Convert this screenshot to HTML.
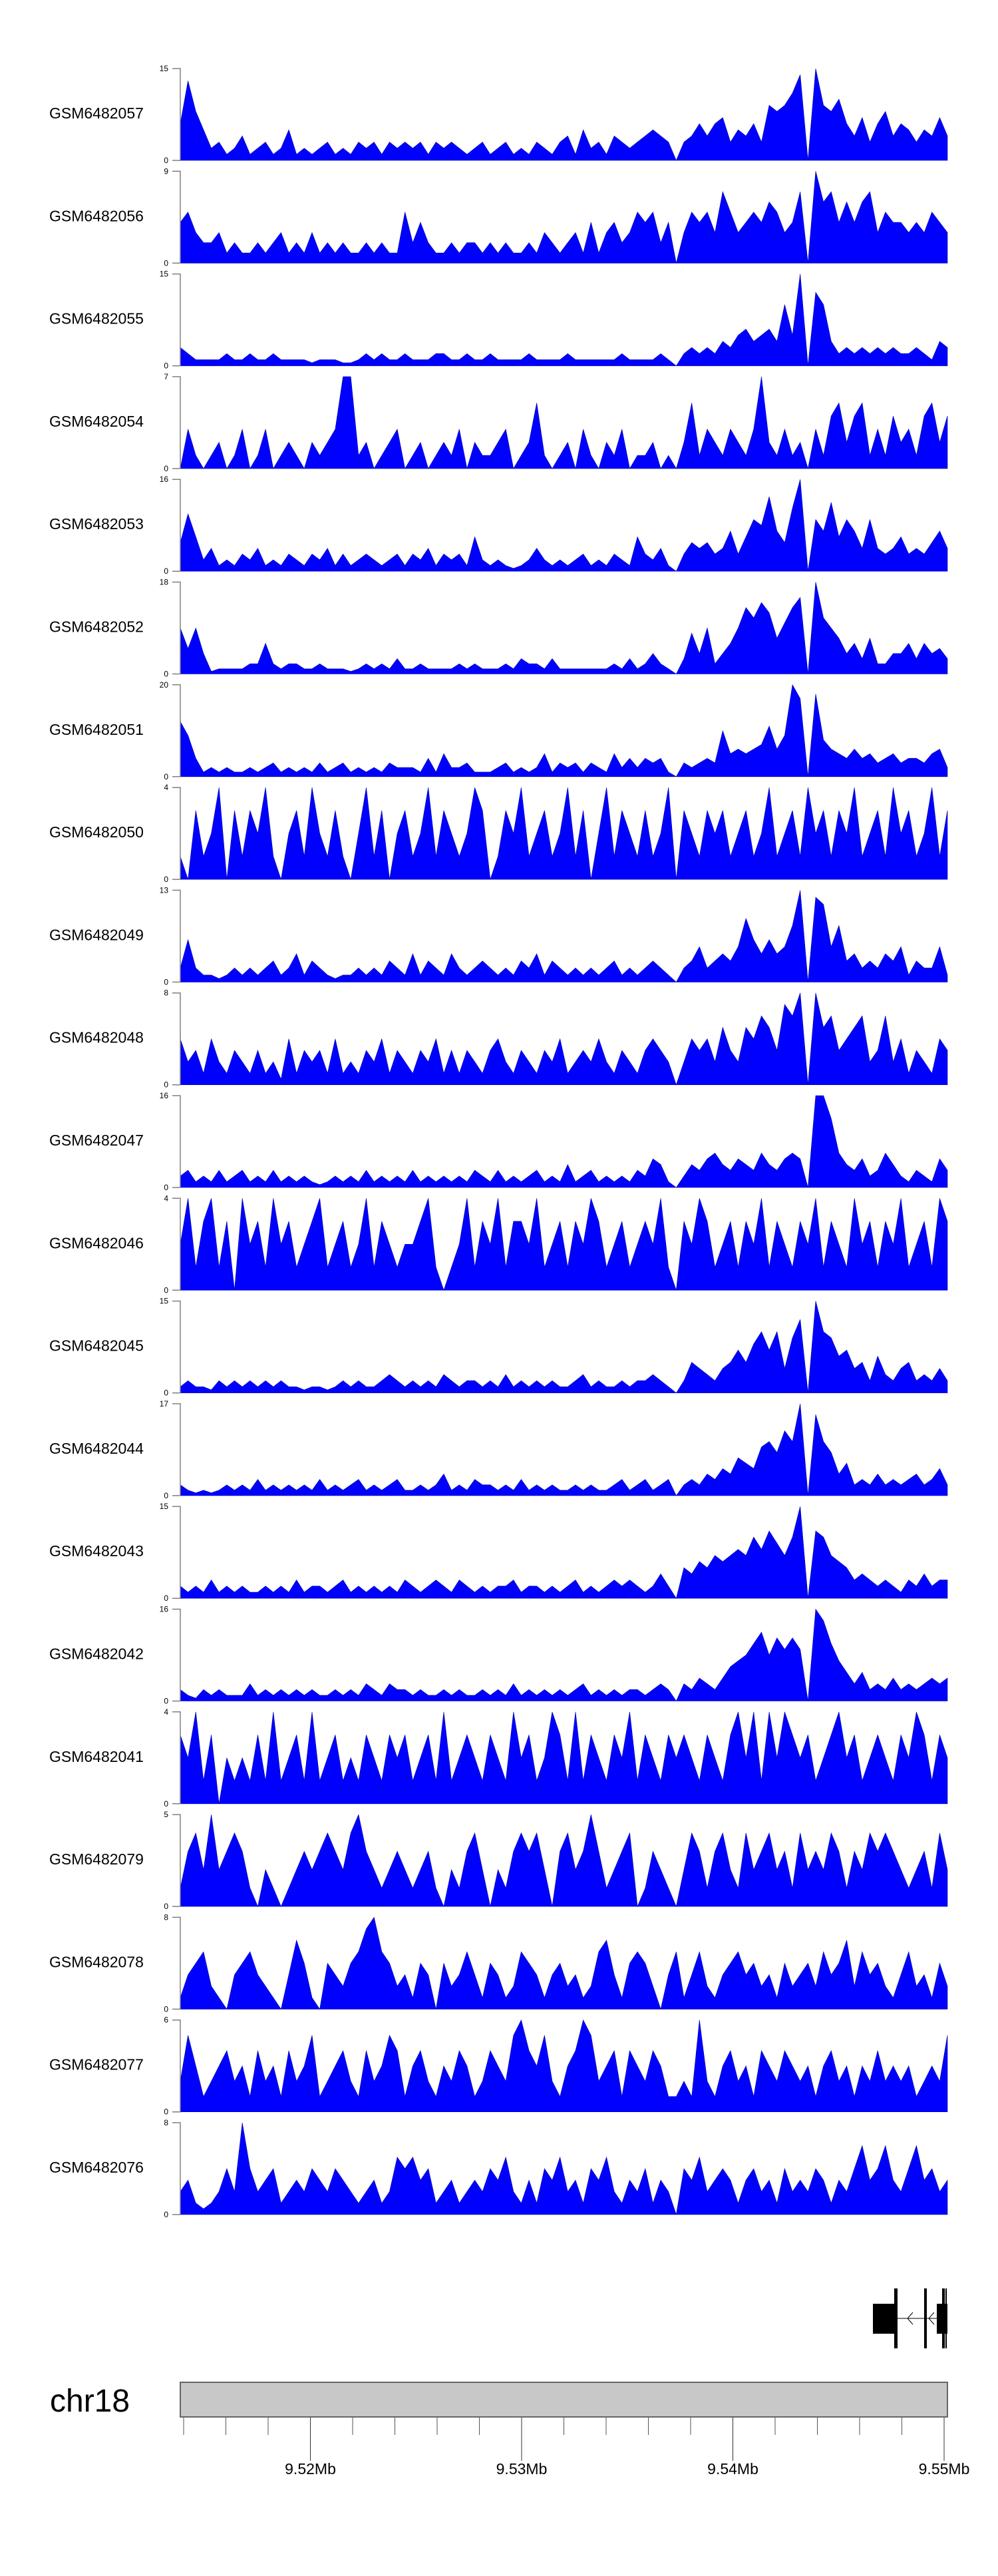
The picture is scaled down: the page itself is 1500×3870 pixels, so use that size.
<!DOCTYPE html>
<html><head><meta charset="utf-8">
<style>
html,body{margin:0;padding:0;background:#fff;}
svg{display:block;}
text{font-family:"Liberation Sans",Arial,sans-serif;}
</style></head>
<body>
<svg id="chart" width="1500" height="3870" viewBox="0 0 1500 3870" xmlns="http://www.w3.org/2000/svg">
<g id="tracks"></g>
<g id="gene">
  <line x1="1349" y1="3483" x2="1410" y2="3483" stroke="#000" stroke-width="1"/>
  <polyline points="1372,3474 1364,3483 1372,3492" fill="none" stroke="#000" stroke-width="1"/>
  <polyline points="1404,3474 1396,3483 1404,3492" fill="none" stroke="#000" stroke-width="1"/>
  <rect x="1312" y="3461" width="37" height="45" fill="#000"/>
  <rect x="1344" y="3438" width="5" height="90" fill="#000"/>
  <rect x="1389" y="3438" width="4" height="90" fill="#000"/>
  <rect x="1408" y="3461" width="16" height="45" fill="#000"/>
  <rect x="1416" y="3438" width="4" height="90" fill="#000"/>
  <rect x="1421" y="3438" width="2" height="90" fill="#000"/>
</g>
<g id="ideo">
  <text x="75" y="3623" font-size="48" fill="#000">chr18</text>
  <rect x="271" y="3579" width="1153" height="52" fill="#c8c8c8" stroke="#666" stroke-width="2"/>
</g>
</svg>
<script>
const trackNames = ["GSM6482057","GSM6482056","GSM6482055","GSM6482054","GSM6482053","GSM6482052","GSM6482051","GSM6482050","GSM6482049","GSM6482048","GSM6482047","GSM6482046","GSM6482045","GSM6482044","GSM6482043","GSM6482042","GSM6482041","GSM6482079","GSM6482078","GSM6482077","GSM6482076"];
const trackMax = [15,9,15,7,16,18,20,4,13,8,16,4,15,17,15,16,4,5,8,6,8];
const t1 = [6,13,8,5,2,3,1,2,4,1, 2,3,1,2,5,1,2,1,2,3, 1,2,1,3,2,3,1,3,2,3, 2,3,1,3,2,3,2,1,2,3, 1,2,3,1,2,1,3,2,1,3, 4,1,5,2,3,1,4,3,2,3, 4,5,4,3,0,3,4,6,4,6, 7,3,5,4,6,3,9,8,9,11, 14,0,15,9,8,10,6,4,7,3, 6,8,4,6,5,3,5,4,7,4];
const t2 = [4,5,3,2,2,3,1,2,1,1, 2,1,2,3,1,2,1,3,1,2, 1,2,1,1,2,1,2,1,1,5, 2,4,2,1,1,2,1,2,2,1, 2,1,2,1,1,2,1,3,2,1, 2,3,1,4,1,3,4,2,3,5, 4,5,2,4,0,3,5,4,5,3, 7,5,3,4,5,4,6,5,3,4, 7,0,9,6,7,4,6,4,6,7, 3,5,4,4,3,4,3,5,4,3];
const t3 = [3,2,1,1,1,1,2,1,1,2, 1,1,2,1,1,1,1,0.5,1,1, 1,0.5,0.5,1,2,1,2,1,1,2, 1,1,1,2,2,1,1,2,1,1, 2,1,1,1,1,2,1,1,1,1, 2,1,1,1,1,1,1,2,1,1, 1,1,2,1,0,2,3,2,3,2, 4,3,5,6,4,5,6,4,10,5, 15,0,12,10,4,2,3,2,3,2, 3,2,3,2,2,3,2,1,4,3];
const t4 = [0,3,1,0,1,2,0,1,3,0, 1,3,0,1,2,1,0,2,1,2, 3,7,7,1,2,0,1,2,3,0, 1,2,0,1,2,1,3,0,2,1, 1,2,3,0,1,2,5,1,0,1, 2,0,3,1,0,2,1,3,0,1, 1,2,0,1,0,2,5,1,3,2, 1,3,2,1,3,7,2,1,3,1, 2,0,3,1,4,5,2,4,5,1, 3,1,4,2,3,1,4,5,2,4];
const t5 = [5,10,6,2,4,1,2,1,3,2, 4,1,2,1,3,2,1,3,2,4, 1,3,1,2,3,2,1,2,3,1, 3,2,4,1,3,2,3,1,6,2, 1,2,1,0.5,1,2,4,2,1,2, 1,2,3,1,2,1,3,2,1,6, 3,2,4,1,0,3,5,4,5,3, 4,7,3,6,9,8,13,7,5,11, 16,0,9,7,12,6,9,7,4,9, 4,3,4,6,3,4,3,5,7,4];
const t6 = [9,5,9,4,0.5,1,1,1,1,2, 2,6,2,1,2,2,1,1,2,1, 1,1,0.5,1,2,1,2,1,3,1, 1,2,1,1,1,1,2,1,2,1, 1,1,2,1,3,2,2,1,3,1, 1,1,1,1,1,1,2,1,3,1, 2,4,2,1,0,3,8,4,9,2, 4,6,9,13,11,14,12,7,10,13, 15,0,18,11,9,7,4,6,3,7, 2,2,4,4,6,3,6,4,5,3];
const t7 = [12,9,4,1,2,1,2,1,1,2, 1,2,3,1,2,1,2,1,3,1, 2,3,1,2,1,2,1,3,2,2, 2,1,4,1,5,2,2,3,1,1, 1,2,3,1,2,1,2,5,1,3, 2,3,1,3,2,1,5,2,4,2, 4,3,4,1,0,3,2,3,4,3, 10,5,6,5,6,7,11,6,9,20, 17,0,18,8,6,5,4,6,4,5, 3,4,5,3,4,4,3,5,6,2];
const t8 = [1,0,3,1,2,4,0,3,1,3, 2,4,1,0,2,3,1,4,2,1, 3,1,0,2,4,1,3,0,2,3, 1,2,4,1,3,2,1,2,4,3, 0,1,3,2,4,1,2,3,1,2, 4,1,3,0,2,4,1,3,2,1, 3,1,2,4,0,3,2,1,3,2, 3,1,2,3,1,2,4,1,2,3, 1,4,2,3,1,3,2,4,1,2, 3,1,4,2,3,1,2,4,1,3];
const t9 = [2,6,2,1,1,0.5,1,2,1,2, 1,2,3,1,2,4,1,3,2,1, 0.5,1,1,2,1,2,1,3,2,1, 4,1,3,2,1,4,2,1,2,3, 2,1,2,1,3,2,4,1,3,2, 1,2,1,2,1,2,3,1,2,1, 2,3,2,1,0,2,3,5,2,3, 4,3,5,9,6,4,6,4,5,8, 13,0,12,11,5,8,3,4,2,3, 2,4,3,5,1,3,2,2,5,1];
const t10 = [4,2,3,1,4,2,1,3,2,1, 3,1,2,0.5,4,1,3,2,3,1, 4,1,2,1,3,2,4,1,3,2, 1,3,2,4,1,3,1,3,2,1, 3,4,2,1,3,2,1,3,2,4, 1,2,3,2,4,2,1,3,2,1, 3,4,3,2,0,2,4,3,4,2, 5,3,2,5,4,6,5,3,7,6, 8,0,8,5,6,3,4,5,6,2, 3,6,2,4,1,3,2,1,4,3];
const t11 = [2,3,1,2,1,3,1,2,3,1, 2,1,3,1,2,1,2,1,0.5,1, 2,1,2,1,3,1,2,1,2,1, 3,1,2,1,2,1,2,1,3,2, 1,3,1,2,1,2,3,1,2,1, 4,1,2,3,1,2,1,2,1,3, 2,5,4,1,0,2,4,3,5,6, 4,3,5,4,3,6,4,3,5,6, 5,0,16,16,12,6,4,3,5,2, 3,6,4,2,1,3,2,1,5,3];
const t12 = [2,4,1,3,4,1,3,0,4,2, 3,1,4,2,3,1,2,3,4,1, 2,3,1,2,4,1,3,2,1,2, 2,3,4,1,0,1,2,4,1,3, 2,4,1,3,3,2,4,1,2,3, 1,3,2,4,3,1,2,3,1,2, 3,2,4,1,0,3,2,4,3,1, 2,3,1,3,2,4,1,3,2,1, 3,2,4,1,3,2,1,4,2,3, 1,3,2,4,1,2,3,1,4,3];
const t13 = [1,2,1,1,0.5,2,1,2,1,2, 1,2,1,2,1,1,0.5,1,1,0.5, 1,2,1,2,1,1,2,3,2,1, 2,1,2,1,3,2,1,2,2,1, 2,1,3,1,2,1,2,1,2,1, 1,2,3,1,2,1,1,2,1,2, 2,3,2,1,0,2,5,4,3,2, 4,5,7,5,8,10,7,10,4,9, 12,0,15,10,9,6,7,4,5,2, 6,3,2,4,5,2,3,2,4,2];
const t14 = [2,1,0.5,1,0.5,1,2,1,2,1, 3,1,2,1,2,1,2,1,3,1, 2,1,2,3,1,2,1,2,3,1, 1,2,1,2,4,1,2,1,3,2, 2,1,2,1,3,1,2,1,2,1, 1,2,1,2,1,1,2,3,1,2, 3,1,2,3,0,2,3,2,4,3, 5,4,7,6,5,9,10,8,12,10, 17,0,15,10,8,4,6,2,3,2, 4,2,3,2,3,4,2,3,5,2];
const t15 = [2,1,2,1,3,1,2,1,2,1, 1,2,1,2,1,3,1,2,2,1, 2,3,1,2,1,2,1,2,1,3, 2,1,2,3,2,1,3,2,1,2, 1,2,2,3,1,2,2,1,2,1, 2,3,1,2,1,2,3,2,3,2, 1,2,4,2,0,5,4,6,5,7, 6,7,8,7,10,8,11,9,7,10, 15,0,11,10,7,6,5,3,4,3, 2,3,2,1,3,2,4,2,3,3];
const t16 = [2,1,0.5,2,1,2,1,1,1,3, 1,2,1,2,1,2,1,2,1,1, 2,1,2,1,3,2,1,3,2,2, 1,2,1,1,2,1,2,1,1,2, 1,2,1,3,1,2,1,2,1,2, 1,2,3,1,2,1,2,1,2,2, 1,2,3,2,0,3,2,4,3,2, 4,6,7,8,10,12,8,11,9,11, 9,0,16,14,10,7,5,3,5,2, 3,2,4,2,3,2,3,4,3,4];
const t17 = [3,2,4,1,3,0,2,1,2,1, 3,1,4,1,2,3,1,4,1,2, 3,1,2,1,3,2,1,3,2,3, 1,2,3,1,4,1,2,3,2,1, 3,2,1,4,2,3,1,2,4,3, 1,4,1,3,2,1,3,2,4,1, 3,2,1,3,2,3,2,1,3,2, 1,3,4,2,4,1,4,2,4,3, 2,3,1,2,3,4,2,3,1,2, 3,2,1,3,2,4,3,1,3,2];
const t18 = [1,3,4,2,5,2,3,4,3,1, 0,2,1,0,1,2,3,2,3,4, 3,2,4,5,3,2,1,2,3,2, 1,2,3,1,0,2,1,3,4,2, 0,2,1,3,4,3,4,2,0,3, 4,2,3,5,3,1,2,3,4,0, 1,3,2,1,0,2,4,3,1,3, 4,2,1,4,2,3,4,2,3,1, 4,2,3,2,4,3,1,3,2,4, 3,4,3,2,1,2,3,1,4,2];
const t19 = [1,3,4,5,2,1,0,3,4,5, 3,2,1,0,3,6,4,1,0,4, 3,2,4,5,7,8,5,4,2,3, 1,4,3,0,4,2,3,5,3,1, 4,3,1,2,5,4,3,1,3,4, 2,3,1,2,5,6,3,1,4,5, 4,2,0,3,5,1,3,5,2,1, 3,4,5,3,4,2,3,1,4,2, 3,4,2,5,3,4,6,2,5,3, 4,2,1,3,5,2,3,1,4,2];
const t20 = [2,5,3,1,2,3,4,2,3,1, 4,2,3,1,4,2,3,5,1,2, 3,4,2,1,4,2,3,5,4,1, 3,4,2,1,3,2,4,3,1,2, 4,3,2,5,6,4,3,5,2,1, 3,4,6,5,2,3,4,1,4,3, 2,4,3,1,1,2,1,6,2,1, 3,4,2,3,1,4,3,2,4,3, 2,3,1,3,4,2,3,1,3,2, 4,2,3,2,3,1,2,3,2,5];
const t21 = [2,3,1,0.5,1,2,4,2,8,4, 2,3,4,1,2,3,2,4,3,2, 4,3,2,1,2,3,1,2,5,4, 5,3,4,1,2,3,1,2,3,2, 4,3,5,2,1,3,1,4,3,5, 2,3,1,4,3,5,2,1,3,2, 4,1,3,2,0,4,3,5,2,3, 4,3,1,3,4,2,3,1,4,2, 3,2,4,3,1,3,2,4,6,3, 4,6,3,2,4,6,3,4,2,3];
const trackValues = [t1,t2,t3,t4,t5,t6,t7,t8,t9,t10,t11,t12,t13,t14,t15,t16,t17,t18,t19,t20,t21];
const axisTicks = [9.52,9.53,9.54,9.55];
const axisTickLabels = ["9.52Mb","9.53Mb","9.54Mb","9.55Mb"];

const NS = "http://www.w3.org/2000/svg";
const X0 = 271, X1 = 1424, TOP0 = 103, PITCH = 154.3, H = 138;
function mk(tag, attrs, parent){const e=document.createElementNS(NS,tag);for(const k in attrs)e.setAttribute(k,attrs[k]);parent.appendChild(e);return e;}
const tracksG = document.getElementById('tracks');
trackValues.forEach((vals, k) => {
  const top = TOP0 + k*PITCH, zero = top + H, mx = trackMax[k];
  const xs = i => X0 + (X1 - X0) * i / (vals.length - 1);
  const ys = v => zero - H * Math.min(v, mx) / mx;
  const g = mk('g', {}, tracksG);
  
  
  const lab = mk('text', {x: 74, y: top + 75, 'font-size': 23, fill: '#000'}, g);
  lab.textContent = trackNames[k];
  
  
  let pts = X0 + ',' + zero + ' ';
  vals.forEach((v, i) => { pts += xs(i).toFixed(1) + ',' + ys(v).toFixed(1) + ' '; });
  pts += X1 + ',' + zero;
  const area = mk('polygon', {points: pts, fill: '#0000ff', stroke: '#0000b0', 'stroke-width': 0.6}, g);
  
  
  const ax = mk('path', {d: `M259 ${top} H${X0} V${zero} H259`, fill: 'none', stroke: '#808080', 'stroke-width': 1.5}, g);
  
  
  [[mx, top], [0, zero]].forEach(([v, y]) => {
    const t = mk('text', {x: 253, y: y + 4, 'font-size': 12, 'text-anchor': 'end', fill: '#000'}, g);
    t.textContent = v;
    
    
  });
});

const ideo = document.getElementById('ideo');
const mbX = v => 461.5 + (v - 9.52) * 31750;
for (let m = 0; m <= 19; m++) {
  const v = 9.514 + m * 0.002;
  const x = mbX(v) + 5;
  if (x > 1424) break;
  const tk = mk('line', {x1: x, y1: 3632, x2: x, y2: 3658, stroke: '#555', 'stroke-width': 1}, ideo);
  
  
}
axisTicks.forEach((v, i) => {
  const x = mbX(v) + 5;
  const tk = mk('line', {x1: x, y1: 3632, x2: x, y2: 3697, stroke: '#333', 'stroke-width': 1}, ideo);
  
  
  const t = mk('text', {x: x, y: 3717, 'font-size': 23, 'text-anchor': 'middle', fill: '#000'}, ideo);
  t.textContent = axisTickLabels[i];
  
  
});
</script>
</body></html>
